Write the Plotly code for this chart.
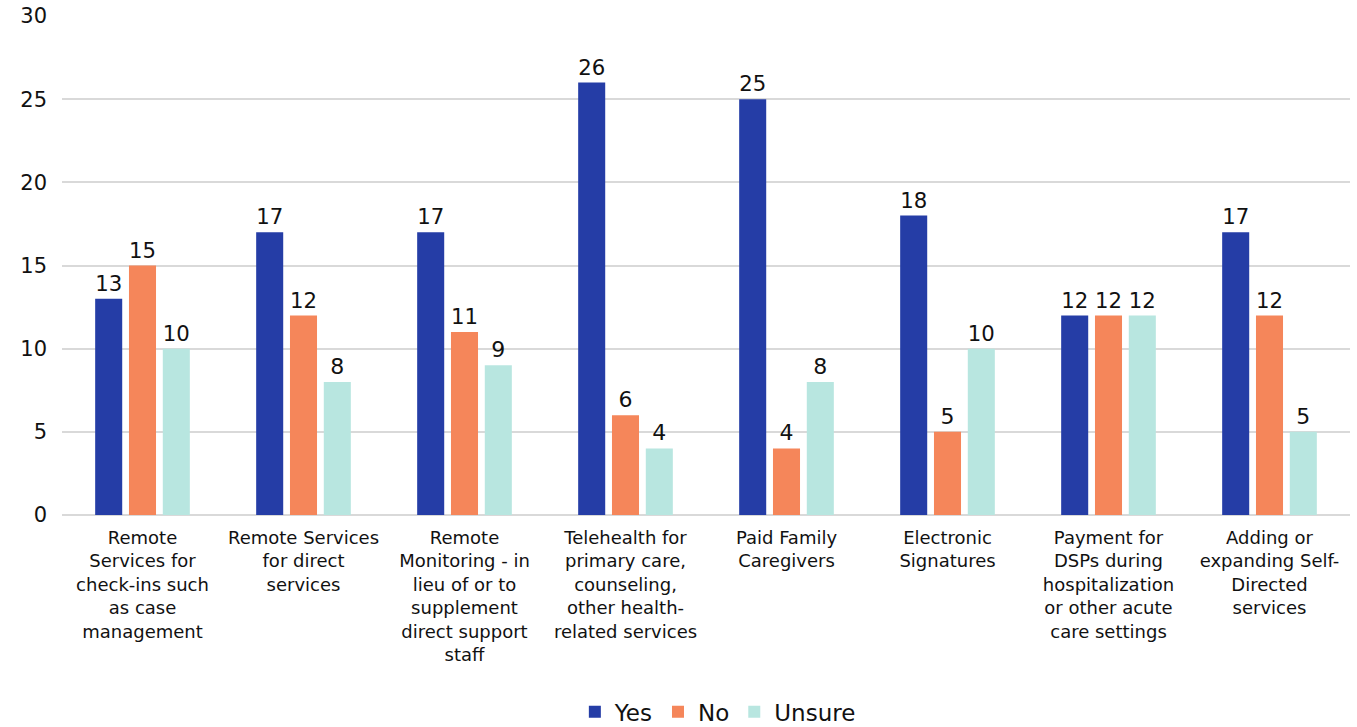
import plotly.graph_objects as go

categories = [
    "Remote<br>Services for<br>check-ins such<br>as case<br>management",
    "Remote Services<br>for direct<br>services",
    "Remote<br>Monitoring - in<br>lieu of or to<br>supplement<br>direct support<br>staff",
    "Telehealth for<br>primary care,<br>counseling,<br>other health-<br>related services",
    "Paid Family<br>Caregivers",
    "Electronic<br>Signatures",
    "Payment for<br>DSPs during<br>hospitalization<br>or other acute<br>care settings",
    "Adding or<br>expanding Self-<br>Directed<br>services",
]
yes_vals = [13, 17, 17, 26, 25, 18, 12, 17]
no_vals = [15, 12, 11, 6, 4, 5, 12, 12]
unsure_vals = [10, 8, 9, 4, 8, 10, 12, 5]

FONT = "DejaVu Sans"
colors = {"Yes": "#253DA6", "No": "#F5865A", "Unsure": "#B8E6E0"}

fig = go.Figure()
for name, vals in [("Yes", yes_vals), ("No", no_vals), ("Unsure", unsure_vals)]:
    fig.add_trace(go.Bar(
        x=categories, y=vals, name=name,
        marker=dict(color=colors[name], line=dict(width=0)),
        text=[str(v) for v in vals], textposition="outside",
        textfont=dict(size=22, color="#111111", family=FONT),
        cliponaxis=False,
    ))

fig.update_layout(
    width=1357, height=727,
    margin=dict(l=62, r=7, t=16, b=212, autoexpand=False),
    paper_bgcolor="white", plot_bgcolor="white",
    barmode="group", bargap=0.37, bargroupgap=0.2,
    font=dict(family=FONT, color="#111111"),
    showlegend=True,
    legend=dict(orientation="h", x=0.529, xanchor="center", xref="container",
                y=0.021, yanchor="middle", yref="container",
                font=dict(size=23, family=FONT), itemwidth=30, tracegroupgap=0),
    xaxis=dict(tickfont=dict(size=18, family=FONT), showgrid=False, showline=False,
               ticks="", ticklabelstandoff=10, automargin=False),
    yaxis=dict(range=[0, 30], dtick=5, showgrid=True, gridcolor="#D9D9D9", gridwidth=2,
               zeroline=True, zerolinecolor="#D9D9D9", zerolinewidth=2,
               tickfont=dict(size=21, family=FONT), ticklabelstandoff=14, showline=False,
               automargin=False),
)

fig.write_html("out.html")
